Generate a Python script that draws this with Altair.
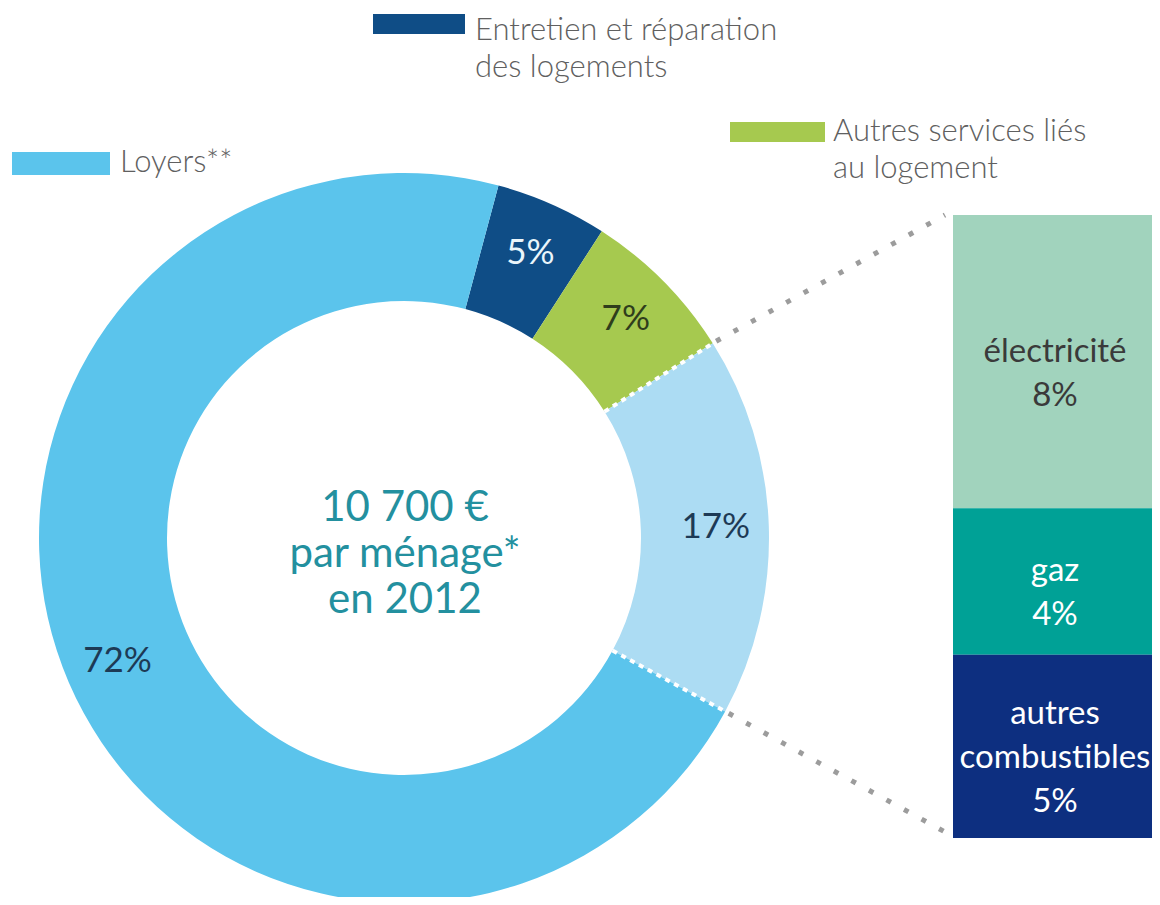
import math
import altair as alt
import pandas as pd

# ---------------- data ----------------
ring_labels = ["Entretien et réparation des logements", "Autres services liés au logement",
               "Énergie", "Loyers**"]
ring_values = [5, 7, 17, 72]
ring_text = ["5%", "7%", "17%", "72%"]
ring_colors = ["#0f4d86", "#a6c94f", "#acdcf3", "#5bc4ec"]
ring_text_colors = ["#eaf5fb", "#2f3d1c", "#1d3a55", "#1d3a55"]

energy_labels = ["électricité", "gaz", "autres combustibles"]
energy_values = [8, 4, 5]
energy_text = ["électricité\n8%", "gaz\n4%", "autres\ncombustibles\n5%"]
energy_colors = ["#a1d3bd", "#00a196", "#0d2f80"]
energy_text_colors = ["#3a3a3a", "#ffffff", "#ffffff"]

legend_names = ["Entretien et réparation\ndes logements", "Autres services liés\nau logement", "Loyers**"]
legend_colors = ["#0f4d86", "#a6c94f", "#5bc4ec"]

center_lines = ["10 700 €\npar ménage*\nen 2012"]

# ---------------- layout ----------------
FONT = "Lato"
W, H = 1144, 889
CX, CY = 396, 530          # ring centre (plot coords)
R_OUT, R_IN = 365, 237
T0 = math.radians(15)      # start angle of the first slice
BAR_TOP, BAR_BOT = 207, 830
BX0, BX1 = 945, 1149
BAR_LH = 44

ring = pd.DataFrame({"cat": ring_labels, "value": ring_values, "label": ring_text,
                     "order": list(range(len(ring_values))), "col": ring_colors,
                     "tcol": ring_text_colors})

theta = alt.Theta("value:Q", stack=True,
                  scale=alt.Scale(range=[T0, T0 + 2 * math.pi]))
base = alt.Chart(ring).encode(theta=theta, order=alt.Order("order:O"))

arcs = base.mark_arc(outerRadius=R_OUT, innerRadius=R_IN, strokeWidth=0).encode(
    color=alt.Color("col:N", scale=None),
    x=alt.value(CX), y=alt.value(CY))

ring_lbl = base.mark_text(radius=312, fontSize=35, font=FONT).encode(
    text="label:N", color=alt.Color("tcol:N", scale=None),
    x=alt.value(CX), y=alt.value(CY))

# boundaries of the energy slice (derived from data)
total = sum(ring_values)
cum_before = sum(ring_values[:2])
cum_after = sum(ring_values[:3])
a1 = T0 + cum_before / total * 2 * math.pi
a2 = T0 + cum_after / total * 2 * math.pi


def pt(a, r):
    return CX + r * math.sin(a), CY - r * math.cos(a)


one = pd.DataFrame({"k": [0]})
layers = [arcs, ring_lbl]

for a in (a1, a2):
    (xi, yi), (xo, yo) = pt(a, R_IN), pt(a, R_OUT)
    layers.append(alt.Chart(one).mark_rule(color="white", strokeWidth=4, strokeDash=[5, 5]).encode(
        x=alt.value(xi), y=alt.value(yi), x2=alt.value(xo), y2=alt.value(yo)))

# connectors to the bar
for a, yend in ((a1, BAR_TOP), (a2, BAR_BOT - 6)):
    xs, ys = pt(a, R_OUT + 4)
    layers.append(alt.Chart(one).mark_rule(color="#9c9c9c", strokeWidth=5, strokeDash=[5, 15]).encode(
        x=alt.value(xs), y=alt.value(ys), x2=alt.value(BX0 - 8), y2=alt.value(yend)))

# ---------------- energy bar ----------------
en = pd.DataFrame({"cat": energy_labels, "value": energy_values, "label": energy_text,
                   "col": energy_colors, "tcol": energy_text_colors})
en["end"] = en["value"].cumsum()
en["start"] = en["end"] - en["value"]
en["mid"] = (en["start"] + en["end"]) / 2
px_per_unit = (BAR_BOT - BAR_TOP) / sum(energy_values)
n_lines = en["label"].str.count("\n")
# first-line anchor so that the whole text block sits centred (slightly low) in its segment
en["ty"] = en["mid"] - (n_lines * BAR_LH / 2 - 12) / px_per_unit
yscale = alt.Scale(domain=[0, sum(energy_values)], range=[BAR_TOP, BAR_BOT])

bars = alt.Chart(en).mark_rect().encode(
    y=alt.Y("start:Q", scale=yscale, axis=None), y2="end:Q",
    x=alt.value(BX0), x2=alt.value(BX1),
    color=alt.Color("col:N", scale=None))
bar_txt = alt.Chart(en).mark_text(fontSize=33, font=FONT, lineBreak="\n", lineHeight=BAR_LH,
                                  baseline="middle").encode(
    y=alt.Y("ty:Q", scale=yscale, axis=None),
    x=alt.value((BX0 + BX1) / 2),
    text="label:N", color=alt.Color("tcol:N", scale=None))
layers += [bars, bar_txt]

# ---------------- legend ----------------
leg_layout = [  # rect x0, y0, x1, y1, text x, text y
    (365, 6, 457, 26, 467, 23),
    (722, 114, 817, 134, 825, 124),
    (4, 144, 102, 167, 112, 155),
]
for name, col, (x0, y0, x1, y1, tx, ty) in zip(legend_names, legend_colors, leg_layout):
    d = pd.DataFrame({"t": [name]})
    layers.append(alt.Chart(d).mark_rect(color=col).encode(
        x=alt.value(x0), x2=alt.value(x1), y=alt.value(y0), y2=alt.value(y1)))
    layers.append(alt.Chart(d).mark_text(align="left", baseline="middle", fontSize=31, font=FONT,
                                         fontWeight=300, color="#606060", lineBreak="\n",
                                         lineHeight=37).encode(
        x=alt.value(tx), y=alt.value(ty), text="t:N"))

# ---------------- centre text ----------------
layers.append(alt.Chart(pd.DataFrame({"t": center_lines})).mark_text(
    fontSize=42, font=FONT, color="#23909f", lineBreak="\n", lineHeight=46,
    baseline="middle", align="center").encode(
    x=alt.value(397), y=alt.value(500), text="t:N"))

chart = alt.layer(*layers).properties(
    width=W, height=H, padding=0, autosize=alt.AutoSizeParams(type="none")
).configure_view(stroke=None)

chart.save("out.html", embed_options={"renderer": "svg", "actions": False})
